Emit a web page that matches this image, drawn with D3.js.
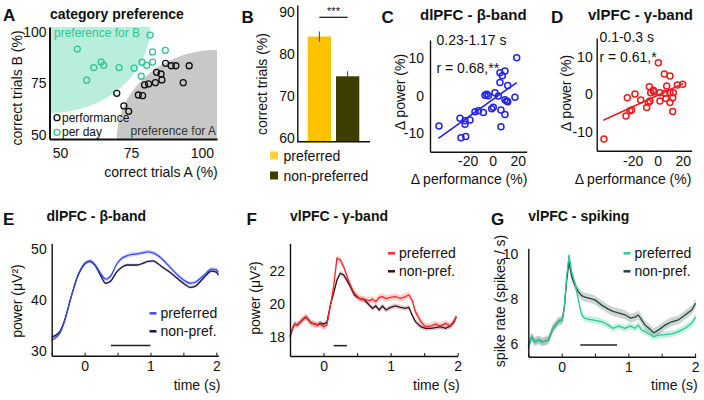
<!DOCTYPE html>
<html><head><meta charset="utf-8">
<script src="https://cdn.jsdelivr.net/npm/d3@7"></script>
<style>body{margin:0;background:#fff} svg{display:block} text{font-family:"Liberation Sans",Arial,Helvetica,sans-serif}</style>
</head><body><svg id="c" width="704" height="400"></svg>
<script>
// ---------------- DATA ----------------
// A: category preference (correct trials A vs B, % per day)
const aTicks = [50, 75, 100];
const aPrefAX = [87.2,89.2,90.8,95.5,84.0,85.6,85.9,93.4,83.6,81.2,79.8,77.6,79.1,70.0,72.5,74.2];
const aPrefAY = [84.8,83.6,83.6,83.6,80.4,79.6,76.7,75.4,75.4,74.8,74.3,69.4,69.1,70.2,64.1,61.5];
const aPrefBX = [81.7,56.1,87.1,82.6,64.5,78.9,82.6,61.9,65.4,70.8,76.1,80.5,78.6,59.4];
const aPrefBY = [98.5,91.7,91.1,90.3,85.4,85.3,85.4,82.7,83.8,82.7,82.4,83.8,78.5,76.6];
const aZoneB = [35.4, 41.7];   // radii (x,y) of "preference for B" zone, from top-left corner
const aZoneA = [35.3, 43.2];   // radii (x,y) of "preference for A" zone, from bottom-right corner

// B: correct trials
const bCats = ["preferred", "non-preferred"];
const bMeans = [84.1, 74.7];
const bErrs = [1.2, 1.2];
const bTicks = [60, 70, 80, 90];

// C, D: correlations
const cdTicksX = [-20, 0, 20];
const cdTicksY = [-10, 0, 10];
const cPerf = [19.2,5.8,9.8,7.7,5.8,12,-4.8,-3.5,-6.2,1.8,4.5,17.8,9.8,11.2,12,0.5,-0.8,6.6,9.8,-7.5,-14.2,-11.5,-26.2,-18.2,-22.2,-22.2,-43,6.6,-25.4,-21.6];
const cPow  = [10.1,6.1,6.6,5.3,3.5,2.7,0.4,0,0.1,0.8,-0.1,-0.4,-1.1,-1.4,-1.6,-3.1,-3.5,-3.8,-5.0,-4.5,-4.3,-4.0,-6.0,-6.5,-6.7,-7.6,-8.1,-8.3,-11.2,-10.9];
const cFitX = [-43.5, 19.2];
const cFitY = [-11.4, 3.5];
const dPerf = [0.5,5.3,9.8,-6.7,-3.5,7.2,15.7,20,-5.6,-3,1.8,5.8,9.8,12.5,-18.2,-24.3,-13.6,-6.2,1.8,6.6,12,9.8,-7.5,-8.8,-20.8,-22.2,-25.4,12,-43];
const dPow  = [8.4,5.4,4.9,2.0,1.1,2.2,2.5,2.7,0.4,0.7,0.4,0.3,0.5,0.4,0.1,-0.9,-1.5,-1.8,-1.8,-1.1,-0.9,-2.2,-2.2,-3.5,-4.2,-4.4,-5.8,-4.6,-11.9];
const dFitX = [-43.5, 20.5];
const dFitY = [-6.9, 2.9];

// E: dlPFC beta power
const timeTicks = [-0.5, 0, 0.5, 1, 1.5, 2];
const eTicksY = [30, 40, 50];
const eTime = [-0.5,-0.42,-0.37,-0.32,-0.27,-0.22,-0.17,-0.12,-0.065,0,0.08,0.16,0.24,0.32,0.4,0.48,0.56,0.64,0.72,0.8,0.88,0.96,1.04,1.12,1.2,1.28,1.36,1.44,1.52,1.6,1.68,1.76,1.84,1.92,2.0,2.03];
const ePref = [32.1,32.8,33.6,35.2,37.4,39.9,42.2,44.3,45.9,47.2,47.7,46.9,45.3,44.1,44.8,46.9,48.2,48.7,49.0,49.1,49.3,49.5,49.3,48.7,47.8,46.7,45.6,44.6,43.8,43.3,43.5,44.3,45.2,46.1,46.0,45.4];
const eNon  = [32.7,33.2,33.9,35.4,37.5,39.9,42.1,44.2,45.8,47.1,47.6,46.8,44.9,43.3,43.8,45.4,46.4,46.9,46.9,46.9,47.2,47.6,47.7,47.1,46.3,45.6,44.8,43.9,43.1,42.5,42.7,43.7,44.8,45.7,45.5,44.9];
const eSem = [0.4, 0.3];
const eSig = [0.4, 1.0, 31.0];

// F: vlPFC gamma power
const fTicksY = [18, 20, 22];
const fTime = [-0.5,-0.46,-0.43,-0.39,-0.34,-0.29,-0.26,-0.23,-0.19,-0.14,-0.09,-0.05,0,0.05,0.1,0.15,0.2,0.25,0.3,0.36,0.41,0.46,0.53,0.61,0.68,0.73,0.78,0.83,0.88,0.93,1.0,1.07,1.15,1.22,1.27,1.32,1.37,1.45,1.52,1.6,1.67,1.74,1.82,1.89,1.94,1.98];
const fPref = [18.04,18.54,18.8,18.74,18.94,19.14,19.24,19.08,18.88,18.8,18.74,18.8,18.64,18.74,19.84,21.04,22.74,22.64,22.24,21.54,21.04,20.64,20.34,20.28,20.2,20.28,20.14,20.4,20.44,20.32,20.4,20.44,20.34,20.44,20.54,20.24,19.54,18.94,18.64,18.68,18.8,18.68,18.84,18.68,18.94,19.24];
const fNon  = [18.04,18.54,18.8,18.74,18.94,19.14,19.2,19.08,18.88,18.8,18.74,18.85,18.8,18.9,19.9,20.64,21.44,21.84,21.74,21.34,20.94,20.54,20.34,20.24,19.94,19.74,19.88,19.64,19.88,19.64,19.8,19.88,19.8,19.74,19.8,19.34,18.94,18.64,18.54,18.54,18.58,18.64,18.54,18.68,18.88,19.24];
const fSem = [0.2, 0.15];
const fSig = [0.15, 0.35, 17.5];

// G: vlPFC spiking
const gTicksY = [6, 8, 10];
const gTime = [-0.5,-0.45,-0.4,-0.35,-0.28,-0.2,-0.13,-0.05,0.01,0.04,0.075,0.11,0.15,0.2,0.25,0.3,0.35,0.42,0.5,0.6,0.7,0.77,0.85,0.95,1.03,1.1,1.15,1.2,1.25,1.3,1.38,1.45,1.55,1.65,1.75,1.85,1.95,2.01];
const gPref = [5.88,6.32,6.1,6.18,6.1,6.18,6.7,7.0,7.07,7.66,9.0,9.96,9.2,8.7,7.96,7.29,7.14,7.1,7.05,7.0,6.84,6.7,6.8,6.7,6.8,6.7,6.84,6.62,6.55,6.47,6.32,6.4,6.42,6.45,6.55,6.7,6.92,7.21];
const gNon  = [5.88,6.32,6.1,6.18,6.1,6.18,6.7,7.0,7.07,7.6,8.8,9.66,9.0,8.6,8.33,8.15,8.08,8.03,7.96,7.73,7.55,7.45,7.39,7.3,7.15,7.2,7.29,7.07,6.84,6.72,6.5,6.62,6.84,6.99,7.07,7.29,7.51,7.81];
const gSem = [0.15, 0.2];
const gSig = [0.28, 0.83, 5.96];

// ---------------- DRAWING ----------------
const svg = d3.select("#c");
const FONT = '"Liberation Sans", Arial, Helvetica, sans-serif';
const INK = "#111";

function txt(x, y, s, o = {}) {
  return svg.append("text").attr("x", x).attr("y", y).text(s)
    .attr("font-size", o.size || 14).attr("font-weight", o.bold ? "bold" : null)
    .attr("text-anchor", o.anchor || "start").attr("fill", o.fill || INK);
}
function ylab(x, y, s) {
  svg.append("text").attr("transform", `translate(${x},${y}) rotate(-90)`)
    .attr("text-anchor", "middle").attr("font-size", 14).attr("fill", INK).text(s);
}
function styleAxis(g, sw) {
  g.attr("font-size", 14).attr("font-family", FONT);
  g.select(".domain").attr("stroke", INK).attr("stroke-width", sw);
  g.selectAll(".tick text").attr("fill", INK);
  g.selectAll(".tick line").attr("stroke", INK).attr("stroke-width", 1);
}
const fmt = d => String(d);

// ===== Panel A =====
const ax = d3.scaleLinear().domain([46.3, 105.3]).range([49.5, 217]);
const ay = d3.scaleLinear().domain([48.06, 102.4]).range([139, 27]);
function zone(cx, cy, rx, ry, a0, a1) {
  const pts = d3.range(0, 61).map(i => {
    const a = a0 + (a1 - a0) * i / 60;
    return [ax(cx + rx * Math.cos(a)), ay(cy + ry * Math.sin(a))];
  });
  return "M" + ax(cx) + "," + ay(cy) + "L" + pts.join("L") + "Z";
}
const [axMin, axMax] = ax.domain(), [ayMin, ayMax] = ay.domain();
svg.append("path").attr("d", zone(axMin, ayMax, aZoneB[0], aZoneB[1], -Math.PI / 2, 0)).attr("fill", "#b9eedc");
svg.append("path").attr("d", zone(axMax, ayMin, aZoneA[0], aZoneA[1], Math.PI / 2, Math.PI)).attr("fill", "#c8c8c8");
styleAxis(svg.append("g").attr("transform", "translate(0,139)")
  .call(d3.axisBottom(ax).tickValues(aTicks).tickSize(0).tickPadding(9).tickFormat(fmt)), 2);
styleAxis(svg.append("g").attr("transform", "translate(49.5,0)")
  .call(d3.axisLeft(ay).tickValues(aTicks).tickSize(0).tickPadding(3).tickFormat(fmt)), 2);
svg.append("g").selectAll("circle").data(aPrefAX).join("circle")
  .attr("cx", d => ax(d)).attr("cy", (d, i) => ay(aPrefAY[i])).attr("r", 3)
  .attr("fill", "none").attr("stroke", "#111").attr("stroke-width", 1.3);
svg.append("g").selectAll("circle").data(aPrefBX).join("circle")
  .attr("cx", d => ax(d)).attr("cy", (d, i) => ay(aPrefBY[i])).attr("r", 3)
  .attr("fill", "none").attr("stroke", "#2fc496").attr("stroke-width", 1.3);
txt(54, 37, "preference for B", { size: 12, fill: "#2fc496" });
txt(216, 135, "preference for A", { size: 12, anchor: "end", fill: "#333" });
svg.append("circle").attr("cx", 57).attr("cy", 117.7).attr("r", 3).attr("fill", "none").attr("stroke", "#111").attr("stroke-width", 1.3);
svg.append("circle").attr("cx", 57).attr("cy", 132.3).attr("r", 3).attr("fill", "none").attr("stroke", "#2fc496").attr("stroke-width", 1.3);
txt(62, 121.8, "performance", { size: 12 });
txt(62, 136.4, "per day", { size: 12 });
txt(3, 20.5, "A", { size: 17, bold: true });
txt(50, 19, "category preference", { bold: true });
ylab(22, 88, "correct trials B (%)");
txt(161, 177, "correct trials A (%)", { anchor: "middle" });

// ===== Panel B =====
const bx = d3.scaleBand().domain(bCats).range([307.7, 359.3]).paddingInner(0.177);
const by = d3.scaleLinear().domain([59.24, 91.55]).range([141.7, 5]);
const bColors = ["#fcc200", "#3d3d00"];
svg.append("g").selectAll("rect").data(bMeans).join("rect")
  .attr("x", (d, i) => bx(bCats[i])).attr("width", bx.bandwidth())
  .attr("y", d => by(d)).attr("height", d => by(by.domain()[0]) - by(d))
  .attr("fill", (d, i) => bColors[i]);
svg.append("g").selectAll("line").data(bMeans).join("line")
  .attr("x1", (d, i) => bx(bCats[i]) + bx.bandwidth() / 2).attr("x2", (d, i) => bx(bCats[i]) + bx.bandwidth() / 2)
  .attr("y1", (d, i) => by(d - bErrs[i])).attr("y2", (d, i) => by(d + bErrs[i]))
  .attr("stroke", "#444").attr("stroke-width", 1);
styleAxis(svg.append("g").attr("transform", "translate(297.3,0)")
  .call(d3.axisLeft(by).tickValues(bTicks).tickSize(0).tickPadding(2.5).tickFormat(fmt)), 1.4);
svg.append("line").attr("x1", 297.3).attr("x2", 370).attr("y1", 141.7).attr("y2", 141.7).attr("stroke", INK).attr("stroke-width", 1.4);
const bc0 = bx(bCats[0]) + bx.bandwidth() / 2, bc1 = bx(bCats[1]) + bx.bandwidth() / 2;
svg.append("line").attr("x1", bc0).attr("x2", bc1).attr("y1", 17.3).attr("y2", 17.3).attr("stroke", INK).attr("stroke-width", 1.2);
txt((bc0 + bc1) / 2, 15, "***", { size: 11, anchor: "middle" });
txt(241.5, 23, "B", { size: 17, bold: true });
ylab(267, 84, "correct trials (%)");
bCats.forEach((c, i) => {
  svg.append("rect").attr("x", 270).attr("y", 151.5 + i * 20).attr("width", 8).attr("height", 8).attr("fill", i ? "#3d3d00" : "#ffd23a");
  txt(283.5, 160.5 + i * 20, c);
});

// ===== Panels C, D =====
function scatterPanel(o) {
  const x = d3.scaleLinear().domain(o.xd).range(o.xr);
  const y = d3.scaleLinear().domain(o.yd).range(o.yr);
  styleAxis(svg.append("g").attr("transform", `translate(0,${o.yr[0]})`)
    .call(d3.axisBottom(x).tickValues(cdTicksX).tickSize(0).tickPadding(o.xpad).tickFormat(fmt)), 1.4);
  styleAxis(svg.append("g").attr("transform", `translate(${o.xr[0]},0)`)
    .call(d3.axisLeft(y).tickValues(cdTicksY).tickSize(0).tickPadding(o.ypad).tickFormat(fmt)), 1.4);
  svg.append("g").selectAll("circle").data(o.px).join("circle")
    .attr("cx", d => x(d)).attr("cy", (d, i) => y(o.py[i])).attr("r", 3)
    .attr("fill", "none").attr("stroke", o.color).attr("stroke-width", 1.5);
  svg.append("path").datum(o.fx.map((d, i) => [d, o.fy[i]]))
    .attr("d", d3.line().x(d => x(d[0])).y(d => y(d[1])))
    .attr("stroke", o.color).attr("stroke-width", 1.6).attr("fill", "none");
}
scatterPanel({ xd: [-50.2, 27.2], xr: [430, 526.7], yd: [-14.93, 14.85], yr: [151.7, 40], xpad: 4.5, ypad: 6,
  px: cPerf, py: cPow, fx: cFitX, fy: cFitY, color: "#2323ee" });
scatterPanel({ xd: [-48.8, 27.2], xr: [596.7, 691.7], yd: [-15.04, 15.01], yr: [150.7, 38], xpad: 5.3, ypad: 4,
  px: dPerf, py: dPow, fx: dFitX, fy: dFitY, color: "#ee1c1c" });
txt(381.5, 23, "C", { size: 17, bold: true });
txt(420, 19.5, "dlPFC - β-band", { size: 15, bold: true });
txt(436.5, 45, "0.23-1.17 s");
txt(436.5, 73, "r = 0.68,**");
ylab(405, 92, "Δ power (%)");
txt(469, 184, "Δ performance (%)", { anchor: "middle" });
txt(551, 23, "D", { size: 17, bold: true });
txt(588, 19.5, "vlPFC - γ-band", { size: 15, bold: true });
txt(599.5, 41.5, "0.1-0.3 s");
txt(599.5, 61.5, "r = 0.61,*");
ylab(571, 93, "Δ power (%)");
txt(633, 184, "Δ performance (%)", { anchor: "middle" });

// ===== Panels E, F, G =====
function timePanel(o) {
  const x = d3.scaleLinear().domain(o.xd).range(o.xr);
  const y = d3.scaleLinear().domain(o.yd).range(o.yr);
  const series = [[o.pref, o.sem[0], o.cPref, o.bPref], [o.non, o.sem[1], o.cNon, o.bNon]];
  series.forEach(s => {
    svg.append("path").datum(o.time)
      .attr("d", d3.area().curve(o.curve).x(d => x(d)).y0((d, i) => y(s[0][i] - s[1])).y1((d, i) => y(s[0][i] + s[1])))
      .attr("fill", s[3]);
  });
  // draw non-preferred first, preferred on top
  [series[1], series[0]].forEach(s => {
    svg.append("path").datum(o.time)
      .attr("d", d3.line().curve(o.curve).x(d => x(d)).y((d, i) => y(s[0][i])))
      .attr("fill", "none").attr("stroke", s[2]).attr("stroke-width", 1.3);
  });
  styleAxis(svg.append("g").attr("transform", `translate(0,${o.yr[0]})`)
    .call(d3.axisBottom(x).tickValues(timeTicks).tickSizeInner(-3).tickSizeOuter(0).tickPadding(5.5)
      .tickFormat(d => Number.isInteger(d) ? String(d) : "")), 1.4);
  styleAxis(svg.append("g").attr("transform", `translate(${o.xr[0]},0)`)
    .call(d3.axisLeft(y).tickValues(o.yt).tickSizeInner(0).tickSizeOuter(0).tickPadding(o.ypad).tickFormat(fmt)), 1.4);
  svg.append("line").attr("x1", x(o.sig[0])).attr("x2", x(o.sig[1])).attr("y1", y(o.sig[2])).attr("y2", y(o.sig[2]))
    .attr("stroke", "#222").attr("stroke-width", 1.5);
  // legend
  const lx = o.legX, ly = o.legY;
  [[o.cPref, "preferred"], [o.cNon, "non-pref."]].forEach((l, i) => {
    svg.append("line").attr("x1", lx).attr("x2", lx + 7).attr("y1", ly + i * 18).attr("y2", ly + i * 18)
      .attr("stroke", l[0]).attr("stroke-width", 2.5);
    txt(lx + 11, ly + i * 18 + 5, l[1]);
  });
  txt(o.xr[1] + 2, 390, "time (s)", { anchor: "end" });
}
timePanel({ xd: [-0.5, 2.03], xr: [51.7, 218.3], yd: [29.01, 51.18], yr: [355.7, 243.3], ypad: 5, yt: eTicksY,
  time: eTime, pref: ePref, non: eNon, sem: eSem, sig: eSig, curve: d3.curveMonotoneX,
  cPref: "#3a48ff", cNon: "#16163f", bPref: "rgba(90,100,255,0.28)", bNon: "rgba(40,40,90,0.2)",
  legX: 149.5, legY: 313.3 });
timePanel({ xd: [-0.5, 2.0], xr: [290, 457.7], yd: [16.88, 23.64], yr: [356, 243.3], ypad: 5, yt: fTicksY,
  time: fTime, pref: fPref, non: fNon, sem: fSem, sig: fSig, curve: d3.curveLinear,
  cPref: "#ff2626", cNon: "#3c0d18", bPref: "rgba(255,60,60,0.25)", bNon: "rgba(70,30,40,0.2)",
  legX: 388, legY: 253.3 });
timePanel({ xd: [-0.5, 2.01], xr: [528.3, 695.7], yd: [5.44, 10.25], yr: [356.7, 248.3], ypad: 10, yt: gTicksY,
  time: gTime, pref: gPref, non: gNon, sem: gSem, sig: gSig, curve: d3.curveLinear,
  cPref: "#2fc996", cNon: "#1e4a40", bPref: "rgba(60,210,160,0.3)", bNon: "rgba(90,100,100,0.28)",
  legX: 623.5, legY: 253.3 });

txt(3, 225, "E", { size: 17, bold: true });
txt(46.5, 221, "dlPFC - β-band", { bold: true });
ylab(22, 301, "power (μV²)");
txt(246.5, 225, "F", { size: 17, bold: true });
txt(290, 221, "vlPFC - γ-band", { bold: true });
ylab(260, 298, "power (μV²)");
txt(491, 225, "G", { size: 17, bold: true });
txt(528.3, 221, "vlPFC - spiking", { bold: true });
ylab(505, 301, "spike rate (spikes / s)");
</script></body></html>
